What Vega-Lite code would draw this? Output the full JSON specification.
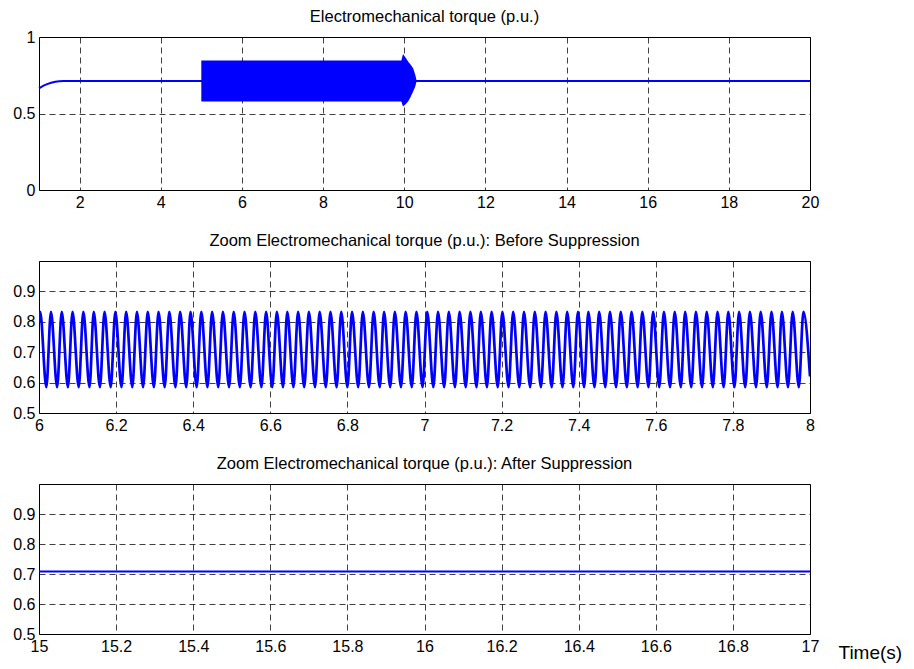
{
  "$schema": "https://vega.github.io/schema/vega-lite/v6.json",
  "padding": {"left": 12, "top": 8, "right": 5, "bottom": 3},
  "background": "white",
  "config": {
    "view": {"stroke": "#000", "strokeWidth": 1},
    "font": "Liberation Sans",
    "title": {"fontSize": 16.5, "fontWeight": "normal", "font": "Liberation Sans", "color": "#000", "offset": 4, "anchor": "middle", "frame": "group"},
    "axis": {"grid": true, "gridDash": [6, 4], "gridColor": "#000", "gridOpacity": 0.75, "ticks": false, "domain": false, "labelFontSize": 16, "labelFont": "Liberation Sans", "labelColor": "#000", "labelPadding": 4, "labelFlush": false, "labelOverlap": false},
    "concat": {"spacing": 21}
  },
  "datasets": {
    "p1line": [{"t": 1.0, "v": 0.665}, {"t": 1.1, "v": 0.68}, {"t": 1.2, "v": 0.692}, {"t": 1.3, "v": 0.701}, {"t": 1.4, "v": 0.708}, {"t": 1.5, "v": 0.711}, {"t": 1.6, "v": 0.712}, {"t": 20, "v": 0.712}],
    "p1band": [{"t": 5.0, "lo": 0.578, "hi": 0.847}, {"t": 9.93, "lo": 0.578, "hi": 0.847}, {"t": 9.97, "lo": 0.545, "hi": 0.889}, {"t": 10.04, "lo": 0.562, "hi": 0.862}, {"t": 10.1, "lo": 0.58, "hi": 0.839}, {"t": 10.16, "lo": 0.61, "hi": 0.818}, {"t": 10.22, "lo": 0.643, "hi": 0.795}, {"t": 10.27, "lo": 0.675, "hi": 0.755}, {"t": 10.3, "lo": 0.705, "hi": 0.72}],
    "p2": [
      {"t": 6.0, "v": 0.8},
      {"t": 6.003, "v": 0.833}, {"t": 6.019, "v": 0.585},
      {"t": 6.031, "v": 0.833}, {"t": 6.047, "v": 0.585},
      {"t": 6.059, "v": 0.833}, {"t": 6.075, "v": 0.585},
      {"t": 6.087, "v": 0.833}, {"t": 6.103, "v": 0.585},
      {"t": 6.115, "v": 0.833}, {"t": 6.131, "v": 0.585},
      {"t": 6.142, "v": 0.833}, {"t": 6.158, "v": 0.585},
      {"t": 6.17, "v": 0.833}, {"t": 6.186, "v": 0.585},
      {"t": 6.198, "v": 0.833}, {"t": 6.214, "v": 0.585},
      {"t": 6.226, "v": 0.833}, {"t": 6.242, "v": 0.585},
      {"t": 6.254, "v": 0.833}, {"t": 6.27, "v": 0.585},
      {"t": 6.282, "v": 0.833}, {"t": 6.298, "v": 0.585},
      {"t": 6.31, "v": 0.833}, {"t": 6.326, "v": 0.585},
      {"t": 6.338, "v": 0.833}, {"t": 6.354, "v": 0.585},
      {"t": 6.366, "v": 0.833}, {"t": 6.382, "v": 0.585},
      {"t": 6.393, "v": 0.833}, {"t": 6.409, "v": 0.585},
      {"t": 6.421, "v": 0.833}, {"t": 6.437, "v": 0.585},
      {"t": 6.449, "v": 0.833}, {"t": 6.465, "v": 0.585},
      {"t": 6.477, "v": 0.833}, {"t": 6.493, "v": 0.585},
      {"t": 6.505, "v": 0.833}, {"t": 6.521, "v": 0.585},
      {"t": 6.533, "v": 0.833}, {"t": 6.549, "v": 0.585},
      {"t": 6.561, "v": 0.833}, {"t": 6.577, "v": 0.585},
      {"t": 6.589, "v": 0.833}, {"t": 6.605, "v": 0.585},
      {"t": 6.617, "v": 0.833}, {"t": 6.633, "v": 0.585},
      {"t": 6.644, "v": 0.833}, {"t": 6.66, "v": 0.585},
      {"t": 6.672, "v": 0.833}, {"t": 6.688, "v": 0.585},
      {"t": 6.7, "v": 0.833}, {"t": 6.716, "v": 0.585},
      {"t": 6.728, "v": 0.833}, {"t": 6.744, "v": 0.585},
      {"t": 6.756, "v": 0.833}, {"t": 6.772, "v": 0.585},
      {"t": 6.784, "v": 0.833}, {"t": 6.8, "v": 0.585},
      {"t": 6.812, "v": 0.833}, {"t": 6.828, "v": 0.585},
      {"t": 6.84, "v": 0.833}, {"t": 6.856, "v": 0.585},
      {"t": 6.868, "v": 0.833}, {"t": 6.884, "v": 0.585},
      {"t": 6.895, "v": 0.833}, {"t": 6.911, "v": 0.585},
      {"t": 6.923, "v": 0.833}, {"t": 6.939, "v": 0.585},
      {"t": 6.951, "v": 0.833}, {"t": 6.967, "v": 0.585},
      {"t": 6.979, "v": 0.833}, {"t": 6.995, "v": 0.585},
      {"t": 7.007, "v": 0.833}, {"t": 7.023, "v": 0.585},
      {"t": 7.035, "v": 0.833}, {"t": 7.051, "v": 0.585},
      {"t": 7.063, "v": 0.833}, {"t": 7.079, "v": 0.585},
      {"t": 7.091, "v": 0.833}, {"t": 7.107, "v": 0.585},
      {"t": 7.119, "v": 0.833}, {"t": 7.135, "v": 0.585},
      {"t": 7.146, "v": 0.833}, {"t": 7.162, "v": 0.585},
      {"t": 7.174, "v": 0.833}, {"t": 7.19, "v": 0.585},
      {"t": 7.202, "v": 0.833}, {"t": 7.218, "v": 0.585},
      {"t": 7.23, "v": 0.833}, {"t": 7.246, "v": 0.585},
      {"t": 7.258, "v": 0.833}, {"t": 7.274, "v": 0.585},
      {"t": 7.286, "v": 0.833}, {"t": 7.302, "v": 0.585},
      {"t": 7.314, "v": 0.833}, {"t": 7.33, "v": 0.585},
      {"t": 7.342, "v": 0.833}, {"t": 7.358, "v": 0.585},
      {"t": 7.37, "v": 0.833}, {"t": 7.386, "v": 0.585},
      {"t": 7.398, "v": 0.833}, {"t": 7.414, "v": 0.585},
      {"t": 7.425, "v": 0.833}, {"t": 7.441, "v": 0.585},
      {"t": 7.453, "v": 0.833}, {"t": 7.469, "v": 0.585},
      {"t": 7.481, "v": 0.833}, {"t": 7.497, "v": 0.585},
      {"t": 7.509, "v": 0.833}, {"t": 7.525, "v": 0.585},
      {"t": 7.537, "v": 0.833}, {"t": 7.553, "v": 0.585},
      {"t": 7.565, "v": 0.833}, {"t": 7.581, "v": 0.585},
      {"t": 7.593, "v": 0.833}, {"t": 7.609, "v": 0.585},
      {"t": 7.621, "v": 0.833}, {"t": 7.637, "v": 0.585},
      {"t": 7.649, "v": 0.833}, {"t": 7.665, "v": 0.585},
      {"t": 7.676, "v": 0.833}, {"t": 7.692, "v": 0.585},
      {"t": 7.704, "v": 0.833}, {"t": 7.72, "v": 0.585},
      {"t": 7.732, "v": 0.833}, {"t": 7.748, "v": 0.585},
      {"t": 7.76, "v": 0.833}, {"t": 7.776, "v": 0.585},
      {"t": 7.788, "v": 0.833}, {"t": 7.804, "v": 0.585},
      {"t": 7.816, "v": 0.833}, {"t": 7.832, "v": 0.585},
      {"t": 7.844, "v": 0.833}, {"t": 7.86, "v": 0.585},
      {"t": 7.872, "v": 0.833}, {"t": 7.888, "v": 0.585},
      {"t": 7.9, "v": 0.833}, {"t": 7.916, "v": 0.585},
      {"t": 7.927, "v": 0.833}, {"t": 7.943, "v": 0.585},
      {"t": 7.955, "v": 0.833}, {"t": 7.971, "v": 0.585},
      {"t": 7.983, "v": 0.833}, {"t": 8.0, "v": 0.62}
    ],
    "p3": [{"t": 15, "v": 0.708}, {"t": 17, "v": 0.708}]
  },
  "vconcat": [
    {
      "width": 771, "height": 153,
      "title": {"text": "Electromechanical torque (p.u.)", "offset": 4},
      "layer": [
        {
          "data": {"name": "p1line"},
          "mark": {"type": "line", "color": "#0000ff", "strokeWidth": 2},
          "encoding": {
            "x": {"field": "t", "type": "quantitative", "scale": {"domain": [1, 20], "nice": false, "zero": false}, "axis": {"values": [2, 4, 6, 8, 10, 12, 14, 16, 18, 20], "format": "~g", "title": null}},
            "y": {"field": "v", "type": "quantitative", "scale": {"domain": [0, 1], "nice": false}, "axis": {"values": [0, 0.5, 1], "format": "~g", "title": null}}
          }
        },
        {
          "data": {"name": "p1band"},
          "mark": {"type": "area", "color": "#0000ff", "opacity": 1},
          "encoding": {
            "x": {"field": "t", "type": "quantitative"},
            "y": {"field": "lo", "type": "quantitative"},
            "y2": {"field": "hi"}
          }
        }
      ]
    },
    {
      "width": 771, "height": 152,
      "title": {"text": "Zoom Electromechanical torque (p.u.): Before Suppression", "offset": 12},
      "data": {"name": "p2"},
      "mark": {"type": "line", "color": "#0000ff", "strokeWidth": 2.7, "interpolate": "monotone", "clip": true},
      "encoding": {
        "x": {"field": "t", "type": "quantitative", "scale": {"domain": [6, 8], "nice": false, "zero": false}, "axis": {"values": [6, 6.2, 6.4, 6.6, 6.8, 7, 7.2, 7.4, 7.6, 7.8, 8], "format": "~g", "title": null}},
        "y": {"field": "v", "type": "quantitative", "scale": {"domain": [0.5, 1], "nice": false, "zero": false}, "axis": {"values": [0.5, 0.6, 0.7, 0.8, 0.9], "format": "~g", "title": null}}
      }
    },
    {
      "width": 771, "height": 150,
      "title": {"text": "Zoom Electromechanical torque (p.u.): After Suppression", "offset": 12},
      "data": {"name": "p3"},
      "mark": {"type": "line", "color": "#0000ff", "strokeWidth": 2},
      "encoding": {
        "x": {"field": "t", "type": "quantitative", "scale": {"domain": [15, 17], "nice": false, "zero": false}, "axis": {"values": [15, 15.2, 15.4, 15.6, 15.8, 16, 16.2, 16.4, 16.6, 16.8, 17], "format": "~g", "title": "Time(s)", "titleX": 799, "titleY": 18, "titleAlign": "left", "titleBaseline": "middle", "titleAnchor": null, "titleFontSize": 19, "titleFontWeight": "normal", "titleFont": "Liberation Sans", "titleColor": "#000"}},
        "y": {"field": "v", "type": "quantitative", "scale": {"domain": [0.5, 1], "nice": false, "zero": false}, "axis": {"values": [0.5, 0.6, 0.7, 0.8, 0.9], "format": "~g", "title": null}}
      }
    }
  ]
}
